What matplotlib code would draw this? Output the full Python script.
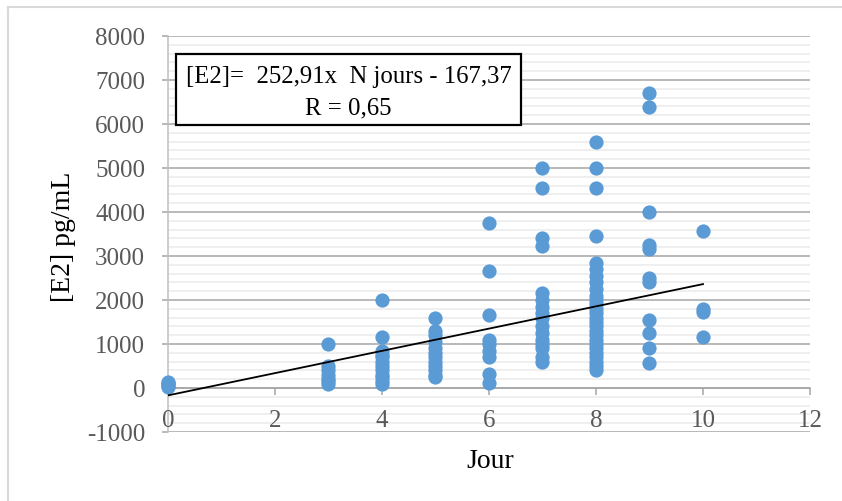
import numpy as np
import matplotlib.pyplot as plt
from matplotlib.patches import Rectangle
from matplotlib.lines import Line2D

# E2 concentrations (pg/mL) by day of stimulation
day0 = [20, 50, 80, 110, 130]
day3 = [1000, 500, 400, 300, 200, 150, 80]
day4 = [2000, 1150, 850, 750, 700, 600, 500, 400, 300, 250, 150, 80]
day5 = [1600, 1300, 1200, 1050, 900, 800, 700, 600, 500, 400, 300, 250]
day6 = [3750, 2650, 1650, 1100, 1000, 850, 700, 320, 120]
day7 = [5000, 4550, 3420, 3220, 2150, 2000, 1850, 1700, 1600, 1400, 1250,
        1100, 1000, 900, 700, 600]
day8 = [5600, 5000, 4550, 3450, 2850, 2700, 2550, 2400, 2250, 2100, 2000,
        1900, 1800, 1700, 1600, 1500, 1400, 1300, 1200, 1100, 1000, 900,
        800, 700, 600, 500, 400]
day9 = [6700, 6380, 4000, 3250, 3150, 2500, 2420, 1550, 1250, 920, 570]
day10 = [3560, 1800, 1720, 1150]

groups = {0: day0, 3: day3, 4: day4, 5: day5, 6: day6,
          7: day7, 8: day8, 9: day9, 10: day10}
jours = np.concatenate([[d] * len(v) for d, v in groups.items()])
e2 = np.concatenate([v for v in groups.values()])

slope, intercept = 252.91, -167.37
fit_x = np.array([0, 10])
x_ticks = [0, 2, 4, 6, 8, 10, 12]
y_ticks = np.arange(-1000, 8001, 1000)

plt.rcParams["font.family"] = ["Liberation Serif", "DejaVu Serif"]
tick_grey = "#595959"

fig = plt.figure(figsize=(8.42, 5.01), dpi=100)
ax = fig.add_axes([0.1995, 0.1377, 0.7625, 0.7904])

ax.set_xlim(0, 12)
ax.set_ylim(-1000, 8000)
ax.set_yticks(y_ticks)
ax.set_yticks(np.arange(-1000, 8001, 200), minor=True)
ax.set_xticks(x_ticks)
ax.grid(axis="y", which="minor", color="#ebebeb", linewidth=1.1)
ax.grid(axis="y", which="major", color="#a6a6a6", linewidth=1.1)
ax.set_axisbelow(True)

for side in ("top", "right"):
    ax.spines[side].set_visible(False)
ax.spines["left"].set_color("#bfbfbf")
ax.spines["left"].set_linewidth(1.1)
ax.spines["bottom"].set_position(("data", 0))
ax.spines["bottom"].set_color("#a6a6a6")
ax.spines["bottom"].set_linewidth(1.1)

ax.tick_params(axis="y", which="major", direction="out", length=4.5, width=1.1,
               color="#a6a6a6", pad=12, labelsize=18, labelcolor=tick_grey)
ax.tick_params(axis="y", which="minor", length=0)
ax.tick_params(axis="x", direction="out", length=5, width=1.1,
               color="#a6a6a6", labelbottom=False)
ax.set_yticklabels([str(v) for v in y_ticks])

# day labels sit just above the -1000 line, under the zero axis
for xt in x_ticks:
    ax.text(xt, -760, str(xt), ha="center", va="center", fontsize=18,
            color=tick_grey)

ax.scatter(jours, e2, s=105, color="#5b9bd5", linewidths=0, zorder=3,
           clip_on=False)
ax.plot(fit_x, slope * fit_x + intercept, color="black", linewidth=1.3,
        zorder=4)

ax.add_patch(Rectangle((0.0125, 0.775), 0.5375, 0.1795, transform=ax.transAxes,
                       facecolor="white", edgecolor="black", linewidth=1.6,
                       zorder=5))
ax.text(0.281, 0.897, "[E2]=  252,91x  N jours - 167,37", transform=ax.transAxes,
        ha="center", va="center", fontsize=17.8, zorder=6)
ax.text(0.281, 0.818, "R = 0,65", transform=ax.transAxes,
        ha="center", va="center", fontsize=17.8, zorder=6)

fig.text(63 / 842, 1 - 237 / 501, "[E2] pg/mL", rotation=90, ha="center",
         va="center", fontsize=20)
fig.text(490 / 842, 1 - 462 / 501, "Jour", ha="center", va="center",
         fontsize=20)

# light frame along the top and left of the chart area
frame_x, frame_y = 8 / 842, 1 - 7 / 501
fig.add_artist(Line2D([frame_x, 1], [frame_y, frame_y], color="#d9d9d9",
                      linewidth=1.5, transform=fig.transFigure))
fig.add_artist(Line2D([frame_x, frame_x], [0, frame_y], color="#d9d9d9",
                      linewidth=1.5, transform=fig.transFigure))

fig.savefig("out.png", dpi=100)
